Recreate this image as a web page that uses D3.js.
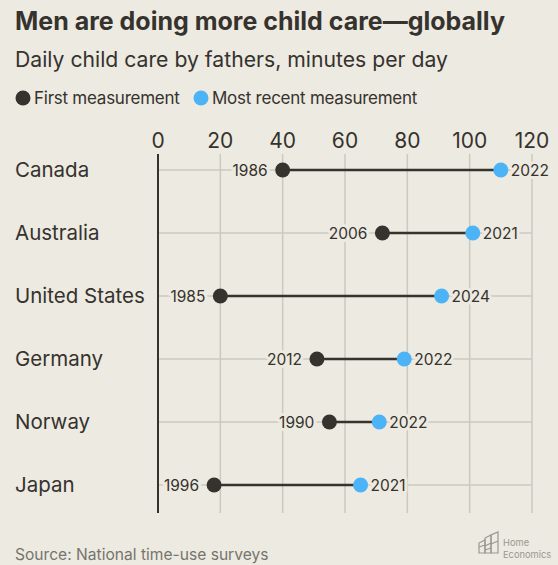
<!DOCTYPE html>
<html lang="en">
<head>
  <meta charset="UTF-8">
  <title>Men are doing more child care</title>
  <script src="https://d3js.org/d3.v7.min.js"></script>
  <style>
    body {
      margin: 0;
      background: #eceae1;
    }
    svg {
      display: block;
      font-family: Inter, "Liberation Sans", sans-serif;
    }
  </style>
</head>
<body>

<svg width="558" height="565"></svg>

<script>
  const countries = ["Canada", "Australia", "United States", "Germany", "Norway", "Japan"];
  const firstValues = [40, 72, 20, 51, 55, 18];
  const firstYears = ["1986", "2006", "1985", "2012", "1990", "1996"];
  const recentValues = [110, 101, 91, 79, 71, 65];
  const recentYears = ["2022", "2021", "2024", "2022", "2022", "2021"];
  const xTicks = [0, 20, 40, 60, 80, 100, 120];

  const bg = "#eceae1";
  const dark = "#36322d";
  const blue = "#4db3f7";
  const grid = "#cbc9c0";

  const svg = d3.select("svg");

  const x = d3.scaleLinear().domain([0, 120]).range([158, 532]);
  const y = d3.scalePoint().domain(countries).range([170, 485]);
  const gridTop = 154, gridBottom = 513;

  // Titles
  svg.append("text")
    .attr("x", 15).attr("y", 30)
    .attr("font-size", 25).attr("font-weight", 700)
    .attr("fill", dark)
    .text("Men are doing more child care\u2014globally");

  svg.append("text")
    .attr("x", 15).attr("y", 67)
    .attr("font-size", 21.2)
    .attr("fill", dark)
    .text("Daily child care by fathers, minutes per day");

  // Legend
  const legend = [
    { label: "First measurement", color: dark, cx: 23 },
    { label: "Most recent measurement", color: blue, cx: 201 }
  ];
  legend.forEach(l => {
    svg.append("circle").attr("cx", l.cx).attr("cy", 98).attr("r", 7.5).attr("fill", l.color);
    svg.append("text")
      .attr("x", l.cx + 11).attr("y", 104)
      .attr("font-size", 17).attr("fill", dark)
      .attr("letter-spacing", -0.25)
      .text(l.label);
  });

  // Vertical gridlines + tick labels
  const xAxis = svg.append("g");
  xAxis.selectAll("line")
    .data(xTicks.slice(1))
    .join("line")
    .attr("x1", d => x(d)).attr("x2", d => x(d))
    .attr("y1", gridTop).attr("y2", gridBottom)
    .attr("stroke", grid).attr("stroke-width", 1.5);
  xAxis.selectAll("text")
    .data(xTicks)
    .join("text")
    .attr("x", d => x(d)).attr("y", 148)
    .attr("text-anchor", "middle")
    .attr("font-size", 21).attr("fill", dark)
    .text(d => d);

  // Horizontal gridlines
  svg.append("g").selectAll("line")
    .data(countries)
    .join("line")
    .attr("x1", x(0)).attr("x2", x(120))
    .attr("y1", d => y(d)).attr("y2", d => y(d))
    .attr("stroke", grid).attr("stroke-width", 1.5);

  // Zero axis
  svg.append("line")
    .attr("x1", x(0)).attr("x2", x(0))
    .attr("y1", gridTop).attr("y2", gridBottom)
    .attr("stroke", dark).attr("stroke-width", 2);

  // Country labels
  svg.append("g").selectAll("text")
    .data(countries)
    .join("text")
    .attr("x", 15).attr("y", d => y(d) + 7)
    .attr("font-size", 20.5).attr("fill", dark)
    .text(d => d);

  const rows = countries.map((c, i) => ({
    country: c, first: firstValues[i], firstYear: firstYears[i],
    recent: recentValues[i], recentYear: recentYears[i]
  }));

  const g = svg.append("g");

  g.selectAll("line.conn")
    .data(rows)
    .join("line")
    .attr("class", "conn")
    .attr("x1", d => x(d.first)).attr("x2", d => x(d.recent))
    .attr("y1", d => y(d.country)).attr("y2", d => y(d.country))
    .attr("stroke", dark).attr("stroke-width", 2.5);

  // Year labels with background halo
  const labelStyle = sel => sel
    .attr("font-size", 15.5).attr("fill", dark)
    .attr("stroke", bg).attr("stroke-width", 6)
    .attr("paint-order", "stroke")
    .attr("stroke-linejoin", "round");

  g.selectAll("text.first")
    .data(rows)
    .join("text")
    .attr("class", "first")
    .attr("x", d => x(d.first) - 15).attr("y", d => y(d.country) + 5.5)
    .attr("text-anchor", "end")
    .call(labelStyle)
    .text(d => d.firstYear);

  g.selectAll("text.recent")
    .data(rows)
    .join("text")
    .attr("class", "recent")
    .attr("x", d => x(d.recent) + 10).attr("y", d => y(d.country) + 5.5)
    .call(labelStyle)
    .text(d => d.recentYear);

  g.selectAll("circle.first")
    .data(rows)
    .join("circle")
    .attr("class", "first")
    .attr("cx", d => x(d.first)).attr("cy", d => y(d.country))
    .attr("r", 7.5).attr("fill", dark);

  g.selectAll("circle.recent")
    .data(rows)
    .join("circle")
    .attr("class", "recent")
    .attr("cx", d => x(d.recent)).attr("cy", d => y(d.country))
    .attr("r", 7.5).attr("fill", blue);

  // Source
  svg.append("text")
    .attr("x", 15).attr("y", 560)
    .attr("font-size", 15.6).attr("fill", "#77746d")
    .text("Source: National time-use surveys");

  // Logo
  const logo = svg.append("g").attr("stroke", "#9a9892").attr("fill", "none").attr("stroke-width", 1.2);
  logo.append("path").attr("d", "M479,553 V543 L485,540 V553 Z");
  logo.append("path").attr("d", "M485,553 V538 L491,535 V553 Z");
  logo.append("path").attr("d", "M491,553 V535 L498,532 V553 Z");
  logo.append("path").attr("d", "M479,547 L485,545 M485,546 L491,543 M491,544 L498,541 M485,550 L491,548");
  svg.append("text").attr("x", 503).attr("y", 546)
    .attr("font-size", 9.3).attr("fill", "#9a9892").text("Home");
  svg.append("text").attr("x", 503).attr("y", 558)
    .attr("font-size", 9.3).attr("fill", "#9a9892").text("Economics");
</script>

</body>
</html>
